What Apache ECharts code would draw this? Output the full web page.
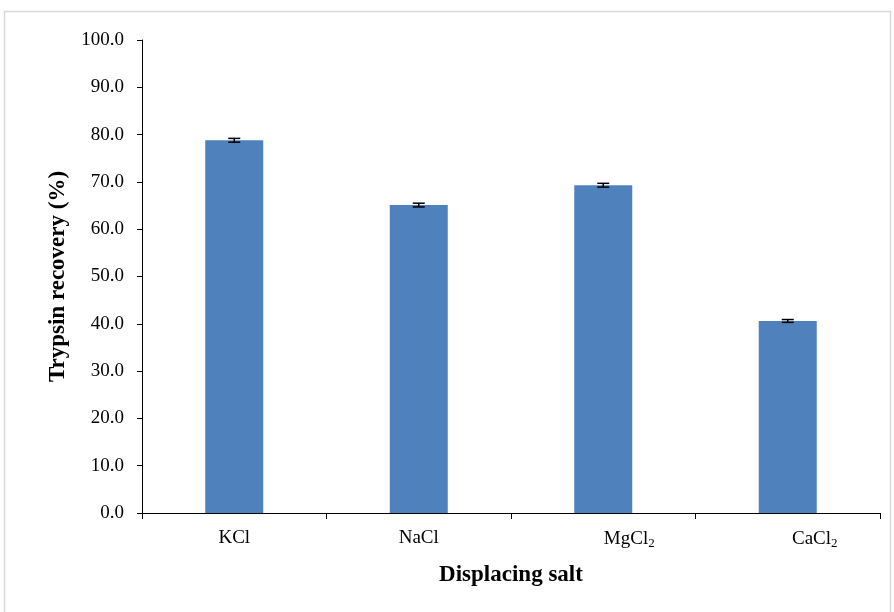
<!DOCTYPE html>
<html>
<head>
<meta charset="utf-8">
<script src="https://cdn.jsdelivr.net/npm/echarts@6/dist/echarts.min.js"></script>
<style>
  html, body { margin: 0; padding: 0; background: #fff; }
  #chart { width: 894px; height: 612px; }
</style>
</head>
<body>
<div id="chart"></div>
<script>
const categories = ['KCl', 'NaCl', 'MgCl2', 'CaCl2'];
const recovery = [78.8, 65.1, 69.3, 40.6];
const errors = [0.4, 0.4, 0.4, 0.3];
const yTicks = [0, 10, 20, 30, 40, 50, 60, 70, 80, 90, 100];

// labels in the source are nudged right for the chlorides with subscripts
const labelShift = { MgCl2: 52, CaCl2: 54 };

const fontFamily = '"Liberation Serif", "Times New Roman", serif';

const renderChart = () => {
  const chart = echarts.init(document.getElementById('chart'));

  const option = {
    animation: false,
    textStyle: { fontFamily: fontFamily },
    grid: { left: 142, right: 14, top: 40, bottom: 99 },
    graphic: [{
      type: 'rect',
      shape: { x: 4.5, y: 11.5, width: 886, height: 610 },
      style: { fill: 'none', stroke: '#d9d9d9', lineWidth: 1.5 },
      silent: true
    }],
    xAxis: {
      type: 'category',
      data: categories,
      name: 'Displacing salt',
      nameLocation: 'middle',
      nameGap: 51,
      nameTextStyle: { fontSize: 23, fontWeight: 'bold', color: '#000', fontFamily: fontFamily },
      axisLine: { lineStyle: { color: '#000', width: 1 } },
      axisTick: { show: true, length: 6, interval: 0, lineStyle: { color: '#000' } },
      axisLabel: {
        interval: 0,
        margin: 16,
        color: '#000',
        fontSize: 19,
        fontFamily: fontFamily,
        formatter: (v) => {
          const pad = labelShift[v] ? '{p' + v + '|}' : '';
          if (v.endsWith('2')) {
            return pad + '{n|' + v.slice(0, -1) + '}{s|2}';
          }
          return '{n|' + v + '}';
        },
        rich: {
          n: { fontSize: 19, color: '#000', fontFamily: fontFamily },
          s: { fontSize: 13, color: '#000', fontFamily: fontFamily, padding: [8, 0, 0, 0] },
          pMgCl2: { width: labelShift.MgCl2 },
          pCaCl2: { width: labelShift.CaCl2 }
        }
      }
    },
    yAxis: {
      type: 'value',
      min: yTicks[0],
      max: yTicks[yTicks.length - 1],
      interval: 10,
      name: 'Trypsin recovery (%)',
      nameLocation: 'middle',
      nameGap: 72,
      nameTextStyle: { fontSize: 23, fontWeight: 'bold', color: '#000', fontFamily: fontFamily },
      axisLine: { show: true, lineStyle: { color: '#000', width: 1 } },
      axisTick: { show: true, length: 5, lineStyle: { color: '#000' } },
      splitLine: { show: false },
      axisLabel: {
        margin: 18,
        color: '#000',
        fontSize: 19,
        fontFamily: fontFamily,
        formatter: (v) => v.toFixed(1)
      }
    },
    series: [
      {
        type: 'bar',
        data: recovery,
        barWidth: 58,
        itemStyle: { color: '#4f81bd' }
      },
      {
        type: 'custom',
        data: recovery.map((v, i) => [i, v - errors[i], v + errors[i]]),
        z: 10,
        renderItem: (params, api) => {
          const lo = api.coord([api.value(0), api.value(1)]);
          const hi = api.coord([api.value(0), api.value(2)]);
          const hw = 6;
          const style = { stroke: '#000', lineWidth: 1.5 };
          return {
            type: 'group',
            children: [
              { type: 'line', shape: { x1: lo[0], y1: lo[1], x2: hi[0], y2: hi[1] }, style: style },
              { type: 'line', shape: { x1: lo[0] - hw, y1: lo[1], x2: lo[0] + hw, y2: lo[1] }, style: style },
              { type: 'line', shape: { x1: hi[0] - hw, y1: hi[1], x2: hi[0] + hw, y2: hi[1] }, style: style }
            ]
          };
        }
      }
    ]
  };

  chart.setOption(option);
};

document.addEventListener('DOMContentLoaded', renderChart);
</script>
</body>
</html>
